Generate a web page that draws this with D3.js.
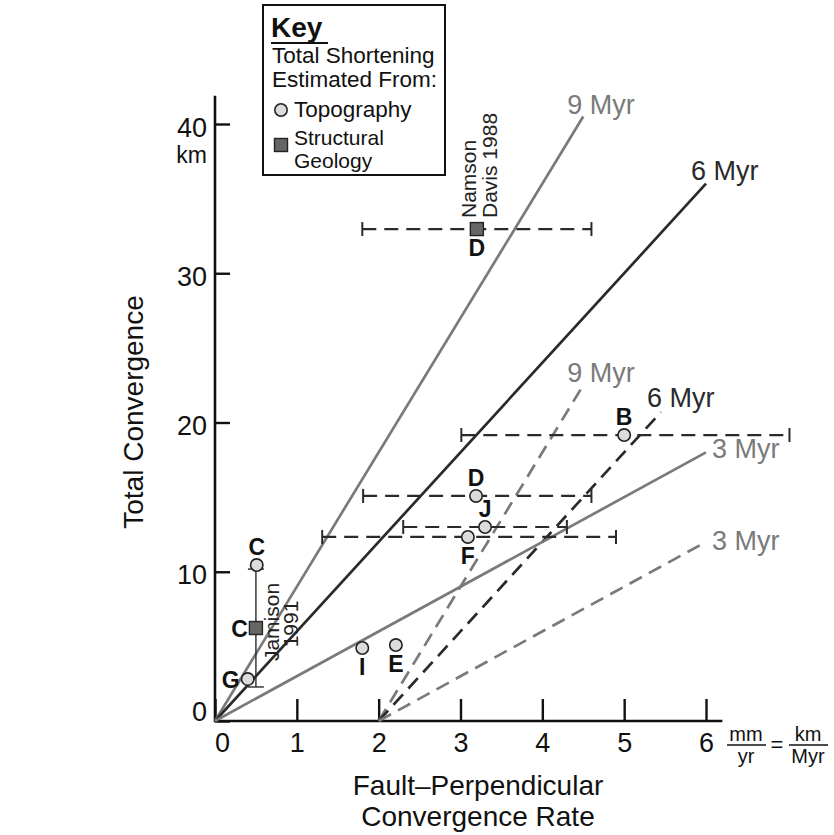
<!DOCTYPE html>
<html>
<head>
<meta charset="utf-8">
<script src="https://cdn.jsdelivr.net/npm/d3@7/dist/d3.min.js"></script>
<style>
  html, body { margin: 0; padding: 0; background: #fff; }
  svg { display: block; font-family: "Liberation Sans", Arial, Helvetica, sans-serif; }
</style>
</head>
<body>
<svg id="chart" width="834" height="835"></svg>
<script>
// ---------------- DATA ----------------
const xTicks = [0, 1, 2, 3, 4, 5, 6];
const yTicks = [0, 10, 20, 30, 40];

// Lines of constant duration (km = mm/yr * Myr)
const durations = [9, 6, 3];
const solidStart = 0;            // lines from origin
const solidEnds = [4.5, 6, 6];   // x extent of solid lines
const dashedStart = 2;           // lines offset by 2 mm/yr
const dashedEnds = [4.5, 5.45, 6];
const durationLabels = ["9 Myr", "6 Myr", "3 Myr"];

// Topography estimates
const topoNames = ["B", "D", "J", "F", "C", "G", "I", "E"];
const topoX =     [5.0, 3.19, 3.30, 3.09, 0.51, 0.40, 1.80, 2.21];
const topoY =     [19.16, 15.08, 13.0, 12.33, 10.45, 2.81, 4.89, 5.09];
const topoXMin =  [3.01, 1.81, 2.30, 1.31, null, null, null, null];
const topoXMax =  [7.02, 4.60, 4.30, 4.90, null, null, null, null];

// Structural geology estimates
const structNames = ["D", "C"];
const structX =     [3.20, 0.50];
const structY =     [32.96, 6.23];
const structXMin =  [1.80, null];
const structXMax =  [4.60, null];
const structYMin =  [null, 2.28];
const structYMax =  [null, 10.18];
const structRefs =  [["Namson", "Davis 1988"], ["Jamison", "1991"]];

// ---------------- STYLE / LAYOUT ----------------
const GREY = "#7a7a7a", DARK = "#2a2a2a";
const lineColors = [GREY, DARK, GREY];
const solidLabelOff = [[-16, -3], [-15, -4], [6, 6]];
const dashedLabelOff = [[-16, -3], [-14, -5], [6, 8]];
const topoLabelPos = ["above", "above", "above", "below", "above", "left", "below", "below"];
const structLabelPos = ["below", "left"];

const svg = d3.select("#chart");
const x = d3.scaleLinear().domain([0, 6]).range([215, 706]);
const y = d3.scaleLinear().domain([0, 40]).range([721, 124]);

// ---------------- AXES ----------------
const axisG = svg.append("g");
// x axis
const xAxis = d3.axisBottom(x).tickValues(xTicks).tickSizeInner(-22).tickSizeOuter(0).tickFormat(d3.format("d"));
const gx = axisG.append("g").attr("transform", `translate(0,${y(0)})`).call(xAxis);
gx.select(".domain").remove();
gx.selectAll(".tick line").attr("stroke", "#111").attr("stroke-width", 2.4);
gx.selectAll(".tick text")
  .attr("y", 31).attr("dy", null)
  .attr("dx", d => d === 0 ? 7 : 0)
  .attr("fill", "#111").style("font-size", "27px");
axisG.append("line")
  .attr("x1", x(0) - 1).attr("x2", x(6.2)).attr("y1", y(0)).attr("y2", y(0))
  .attr("stroke", "#111").attr("stroke-width", 2.6);

// y axis
const yAxis = d3.axisLeft(y).tickValues(yTicks).tickSizeInner(-15).tickSizeOuter(0).tickFormat(d3.format("d"));
const gy = axisG.append("g").attr("transform", `translate(${x(0)},0)`).call(yAxis);
gy.select(".domain").remove();
gy.selectAll(".tick line").attr("stroke", "#111").attr("stroke-width", 2.4);
gy.selectAll(".tick text")
  .attr("x", -8).attr("dy", d => d === 0 ? "-1" : "12")
  .attr("fill", "#111").style("font-size", "27px");
axisG.append("line")
  .attr("x1", x(0)).attr("x2", x(0)).attr("y1", y(0) + 1).attr("y2", y(41.9))
  .attr("stroke", "#111").attr("stroke-width", 2.6);

// "km" under 40
svg.append("text").attr("x", 207).attr("y", 163).attr("text-anchor", "end")
  .style("font-size", "23px").attr("fill", "#111").text("km");

// axis titles
svg.append("text")
  .attr("transform", `translate(143,412) rotate(-90)`)
  .attr("text-anchor", "middle").style("font-size", "28px").attr("fill", "#111")
  .text("Total Convergence");
svg.append("text").attr("x", 478).attr("y", 795).attr("text-anchor", "middle")
  .style("font-size", "28px").attr("fill", "#111").text("Fault\u2013Perpendicular");
svg.append("text").attr("x", 478).attr("y", 826).attr("text-anchor", "middle")
  .style("font-size", "28px").attr("fill", "#111").text("Convergence Rate");

// units fraction
const uf = svg.append("g").style("font-size", "20px").attr("fill", "#111");
uf.append("text").attr("x", 746).attr("y", 741).attr("text-anchor", "middle").text("mm");
uf.append("text").attr("x", 746).attr("y", 763).attr("text-anchor", "middle").text("yr");
uf.append("line").attr("x1", 727).attr("x2", 766).attr("y1", 745).attr("y2", 745).attr("stroke", "#111").attr("stroke-width", 1.5);
uf.append("text").attr("x", 777).attr("y", 752).attr("text-anchor", "middle").style("font-size", "22px").text("=");
uf.append("text").attr("x", 808).attr("y", 741).attr("text-anchor", "middle").text("km");
uf.append("text").attr("x", 808).attr("y", 763).attr("text-anchor", "middle").text("Myr");
uf.append("line").attr("x1", 789).attr("x2", 828).attr("y1", 745).attr("y2", 745).attr("stroke", "#111").attr("stroke-width", 1.5);

// ---------------- DURATION LINES ----------------
const lineG = svg.append("g");
durations.forEach((t, i) => {
  // solid (from origin)
  lineG.append("line")
    .attr("x1", x(solidStart)).attr("y1", y(0))
    .attr("x2", x(solidEnds[i])).attr("y2", y(t * (solidEnds[i] - solidStart)))
    .attr("stroke", lineColors[i]).attr("stroke-width", 2.7);
  lineG.append("text")
    .attr("x", x(solidEnds[i]) + solidLabelOff[i][0])
    .attr("y", y(t * (solidEnds[i] - solidStart)) + solidLabelOff[i][1])
    .attr("fill", lineColors[i]).style("font-size", "27px").text(durationLabels[i]);
  // dashed (offset by 2 mm/yr)
  lineG.append("line")
    .attr("x1", x(dashedStart)).attr("y1", y(0))
    .attr("x2", x(dashedEnds[i])).attr("y2", y(t * (dashedEnds[i] - dashedStart)))
    .attr("stroke", lineColors[i]).attr("stroke-width", 2.7)
    .attr("stroke-dasharray", "14,8");
  lineG.append("text")
    .attr("x", x(dashedEnds[i]) + dashedLabelOff[i][0])
    .attr("y", y(t * (dashedEnds[i] - dashedStart)) + dashedLabelOff[i][1])
    .attr("fill", lineColors[i]).style("font-size", "27px").text(durationLabels[i]);
});

// ---------------- ERROR BARS ----------------
const errG = svg.append("g").attr("stroke", DARK).attr("fill", "none");
function hBar(xmin, xmax, yv) {
  errG.append("line").attr("x1", x(xmin)).attr("x2", x(xmax)).attr("y1", y(yv)).attr("y2", y(yv))
    .attr("stroke-width", 2.2).attr("stroke-dasharray", "14,8");
  [xmin, xmax].forEach(v => errG.append("line")
    .attr("x1", x(v)).attr("x2", x(v)).attr("y1", y(yv) - 7).attr("y2", y(yv) + 7)
    .attr("stroke-width", 2));
}
topoNames.forEach((n, i) => { if (topoXMin[i] != null) hBar(topoXMin[i], topoXMax[i], topoY[i]); });
structNames.forEach((n, i) => {
  if (structXMin[i] != null) hBar(structXMin[i], structXMax[i], structY[i]);
  if (structYMin[i] != null) {
    errG.append("line").attr("x1", x(structX[i])).attr("x2", x(structX[i]))
      .attr("y1", y(structYMin[i])).attr("y2", y(structYMax[i])).attr("stroke-width", 1.4);
    [structYMin[i], structYMax[i]].forEach(v => errG.append("line")
      .attr("x1", x(structX[i]) - 8).attr("x2", x(structX[i]) + 8)
      .attr("y1", y(v)).attr("y2", y(v)).attr("stroke-width", 1.4));
  }
});

// ---------------- POINTS ----------------
const ptG = svg.append("g");
ptG.selectAll("circle.topo").data(topoNames).join("circle")
  .attr("class", "topo")
  .attr("cx", (d, i) => x(topoX[i])).attr("cy", (d, i) => y(topoY[i])).attr("r", 6.2)
  .attr("fill", "#dcdcdc").attr("stroke", "#222").attr("stroke-width", 1.6);
ptG.selectAll("rect.struct").data(structNames).join("rect")
  .attr("class", "struct")
  .attr("x", (d, i) => x(structX[i]) - 6.5).attr("y", (d, i) => y(structY[i]) - 6.5)
  .attr("width", 13).attr("height", 13)
  .attr("fill", "#666").attr("stroke", "#222").attr("stroke-width", 1.4);

function placeLabel(name, px, py, pos) {
  const t = ptG.append("text").text(name).style("font-size", "23px").style("font-weight", "bold").attr("fill", "#111");
  if (pos === "above") t.attr("x", px).attr("y", py - 10).attr("text-anchor", "middle");
  else if (pos === "below") t.attr("x", px).attr("y", py + 27).attr("text-anchor", "middle");
  else t.attr("x", px - 8).attr("y", py + 9).attr("text-anchor", "end");
}
topoNames.forEach((n, i) => placeLabel(n, x(topoX[i]), y(topoY[i]), topoLabelPos[i]));
structNames.forEach((n, i) => placeLabel(n, x(structX[i]), y(structY[i]), structLabelPos[i]));

// reference annotations (rotated)
const refG = svg.append("g").style("font-size", "21px").attr("fill", "#222");
refG.append("text").attr("transform", `translate(${x(structX[0]) - 1},218) rotate(-90)`).text(structRefs[0][0]);
refG.append("text").attr("transform", `translate(${x(structX[0]) + 20},218) rotate(-90)`).text(structRefs[0][1]);
refG.append("text").attr("transform", `translate(${x(structX[1]) + 23},622) rotate(-90)`).attr("text-anchor", "middle").text(structRefs[1][0]);
refG.append("text").attr("transform", `translate(${x(structX[1]) + 42},624) rotate(-90)`).attr("text-anchor", "middle").text(structRefs[1][1]);

// ---------------- KEY ----------------
const key = svg.append("g");
key.append("rect").attr("x", 263).attr("y", 5).attr("width", 182).attr("height", 170)
  .attr("fill", "#fff").attr("stroke", "#111").attr("stroke-width", 2);
key.append("text").attr("x", 271).attr("y", 37).style("font-size", "28px").style("font-weight", "bold").attr("fill", "#111").text("Key");
key.append("line").attr("x1", 271).attr("x2", 328).attr("y1", 43).attr("y2", 43).attr("stroke", "#111").attr("stroke-width", 2.2);
key.append("text").attr("x", 272).attr("y", 63).style("font-size", "22.5px").attr("fill", "#111").text("Total Shortening");
key.append("text").attr("x", 272).attr("y", 87).style("font-size", "22.5px").attr("fill", "#111").text("Estimated From:");
key.append("circle").attr("cx", 281).attr("cy", 110).attr("r", 6.2).attr("fill", "#dcdcdc").attr("stroke", "#222").attr("stroke-width", 1.6);
key.append("text").attr("x", 294).attr("y", 117).style("font-size", "22.5px").attr("fill", "#111").text("Topography");
key.append("rect").attr("x", 274.5).attr("y", 138.5).attr("width", 13).attr("height", 13).attr("fill", "#666").attr("stroke", "#222").attr("stroke-width", 1.4);
key.append("text").attr("x", 294).attr("y", 145).style("font-size", "21px").attr("fill", "#111").text("Structural");
key.append("text").attr("x", 294).attr("y", 168).style("font-size", "21px").attr("fill", "#111").text("Geology");
</script>
</body>
</html>
